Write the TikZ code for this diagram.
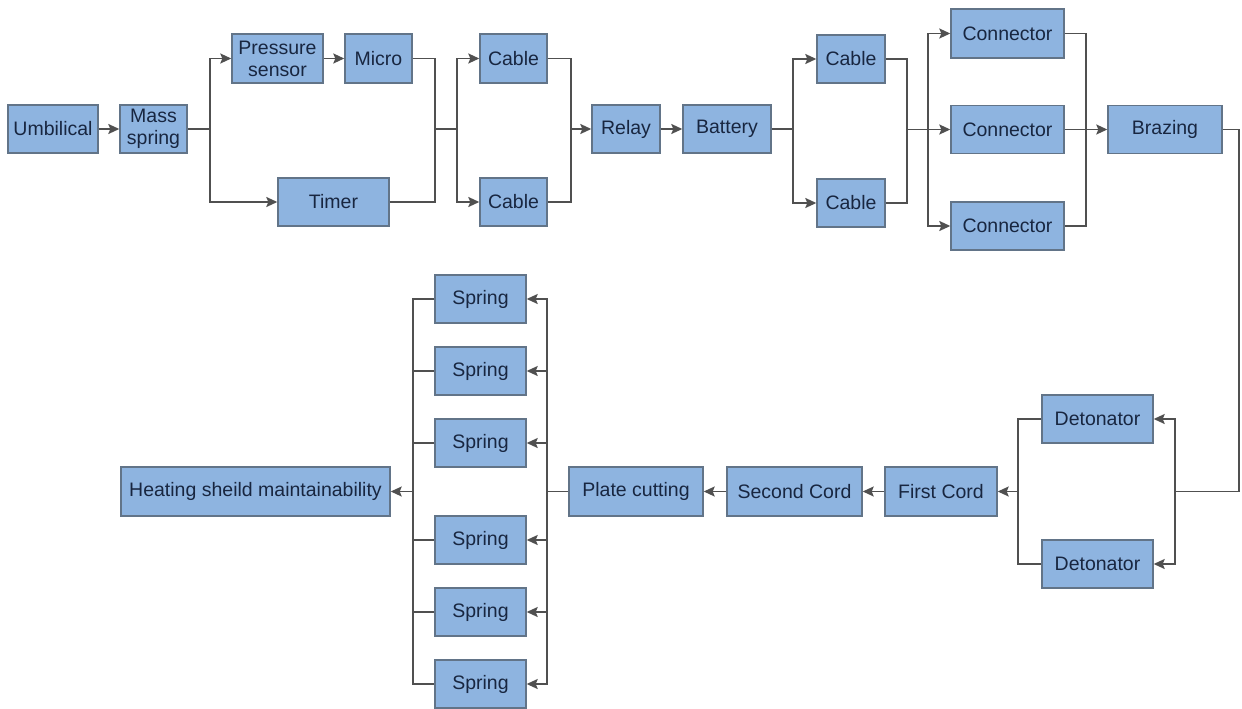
\documentclass[tikz,border=0pt]{standalone}
\usepackage{fontspec}
\setmainfont{Liberation Sans}
\usetikzlibrary{arrows.meta}
\definecolor{boxfill}{RGB}{142,180,224}
\definecolor{boxline}{RGB}{98,116,136}
\definecolor{txtcol}{RGB}{24,38,64}
\definecolor{wirecol}{RGB}{80,80,80}
\tikzset{
  blk/.style={draw=boxline, line width=1.4pt, fill=boxfill, text=txtcol,
    font=\fontsize{19.5}{22}\selectfont, inner sep=0pt, align=center,
    minimum height=48},
  wire/.style={draw=wirecol, line width=1.6pt},
  arr/.style={wire, -{Stealth[length=11pt,width=10pt,inset=2pt]}}
}
\begin{document}
\begin{tikzpicture}[x=1pt,y=-1pt]
\useasboundingbox[fill=white] (0,0) rectangle (1242,709);
% top row
\node[blk, minimum width=90] (umb) at (53,129) {Umbilical};
\node[blk, minimum width=67] (mass) at (153.5,129) {Mass\\spring};
\node[blk, minimum width=91, minimum height=49] (press) at (277.5,58.5) {Pressure\\sensor};
\node[blk, minimum width=67, minimum height=49] (micro) at (378.5,58.5) {Micro};
\node[blk, minimum width=111] (timer) at (333.5,202) {Timer};
\node[blk, minimum width=67, minimum height=49] (cab1) at (513.5,58.5) {Cable};
\node[blk, minimum width=67] (cab2) at (513.5,202) {Cable};
\node[blk, minimum width=68] (relay) at (626,129) {Relay};
\node[blk, minimum width=88] (batt) at (727,129) {Battery};
\node[blk, minimum width=68] (cab3) at (851,59) {Cable};
\node[blk, minimum width=68] (cab4) at (851,203) {Cable};
\node[blk, minimum width=113, minimum height=49] (con1) at (1007.5,33.5) {Connector};
\node[blk, minimum width=113] (con2) at (1007.5,129.5) {Connector};
\node[blk, minimum width=113] (con3) at (1007.5,226) {Connector};
\node[blk, minimum width=114] (braz) at (1165,129.5) {Brazing};
% bottom row
\node[blk, minimum width=111] (det1) at (1097.5,419) {Detonator};
\node[blk, minimum width=111] (det2) at (1097.5,564) {Detonator};
\node[blk, minimum width=112, minimum height=49] (first) at (941,491.5) {First Cord};
\node[blk, minimum width=135, minimum height=49] (second) at (794.5,491.5) {Second Cord};
\node[blk, minimum width=134, minimum height=49] (plate) at (636,491.5) {Plate cutting};
\node[blk, minimum width=91] (spr1) at (480.5,299) {Spring};
\node[blk, minimum width=91] (spr2) at (480.5,371) {Spring};
\node[blk, minimum width=91] (spr3) at (480.5,443) {Spring};
\node[blk, minimum width=91] (spr4) at (480.5,540) {Spring};
\node[blk, minimum width=91] (spr5) at (480.5,612) {Spring};
\node[blk, minimum width=91] (spr6) at (480.5,684) {Spring};
\node[blk, minimum width=269, minimum height=49] (heat) at (255.5,491.5) {Heating sheild maintainability};
% junction coordinates
\coordinate (s1) at (210,129);
\coordinate (j1) at (435,129);
\coordinate (s2) at (457,129);
\coordinate (j2) at (571,129);
\coordinate (s3) at (793,129);
\coordinate (j3) at (907,129.5);
\coordinate (s4) at (928,129.5);
\coordinate (j4) at (1086,129.5);
\coordinate (r1) at (1239,129.5);
\coordinate (r2) at (1239,491.5);
\coordinate (d1) at (1175,491.5);
\coordinate (l1) at (1018,491.5);
\coordinate (p1) at (547,491.5);
\coordinate (q1) at (413,491.5);
% top connectors
\draw[arr] (umb) -- (mass);
\draw[wire] (mass.east) -- (s1);
\draw[arr] (s1) |- (press.west);
\draw[arr] (s1) |- (timer.west);
\draw[arr] (press) -- (micro);
\draw[wire] (micro.east) -| (j1);
\draw[wire] (timer.east) -| (j1);
\draw[wire] (j1) -- (s2);
\draw[arr] (s2) |- (cab1.west);
\draw[arr] (s2) |- (cab2.west);
\draw[wire] (cab1.east) -| (j2);
\draw[wire] (cab2.east) -| (j2);
\draw[arr] (j2) -- (relay.west);
\draw[arr] (relay) -- (batt);
\draw[wire] (batt.east) -- (s3);
\draw[arr] (s3) |- (cab3.west);
\draw[arr] (s3) |- (cab4.west);
\draw[wire] (cab3.east) -| (j3);
\draw[wire] (cab4.east) -| (j3);
\draw[wire] (j3) -- (s4);
\draw[arr] (s4) |- (con1.west);
\draw[arr] (s4) -- (con2.west);
\draw[arr] (s4) |- (con3.west);
\draw[wire] (con1.east) -| (j4);
\draw[wire] (con3.east) -| (j4);
\draw[wire] (con2.east) -- (j4);
\draw[arr] (j4) -- (braz.west);
% down the right side
\draw[wire] (braz.east) -- (r1) -- (r2) -- (d1);
\draw[arr] (d1) |- (det1.east);
\draw[arr] (d1) |- (det2.east);
\draw[wire] (det1.west) -| (l1);
\draw[wire] (det2.west) -| (l1);
\draw[arr] (l1) -- (first.east);
\draw[arr] (first) -- (second);
\draw[arr] (second) -- (plate);
\draw[wire] (plate.west) -- (p1);
\foreach \s in {spr1,spr2,spr3,spr4,spr5,spr6}{
  \draw[arr] (p1) |- (\s.east);
  \draw[wire] (\s.west) -| (q1);
}
\draw[arr] (q1) -- (heat.east);
\end{tikzpicture}
\end{document}
